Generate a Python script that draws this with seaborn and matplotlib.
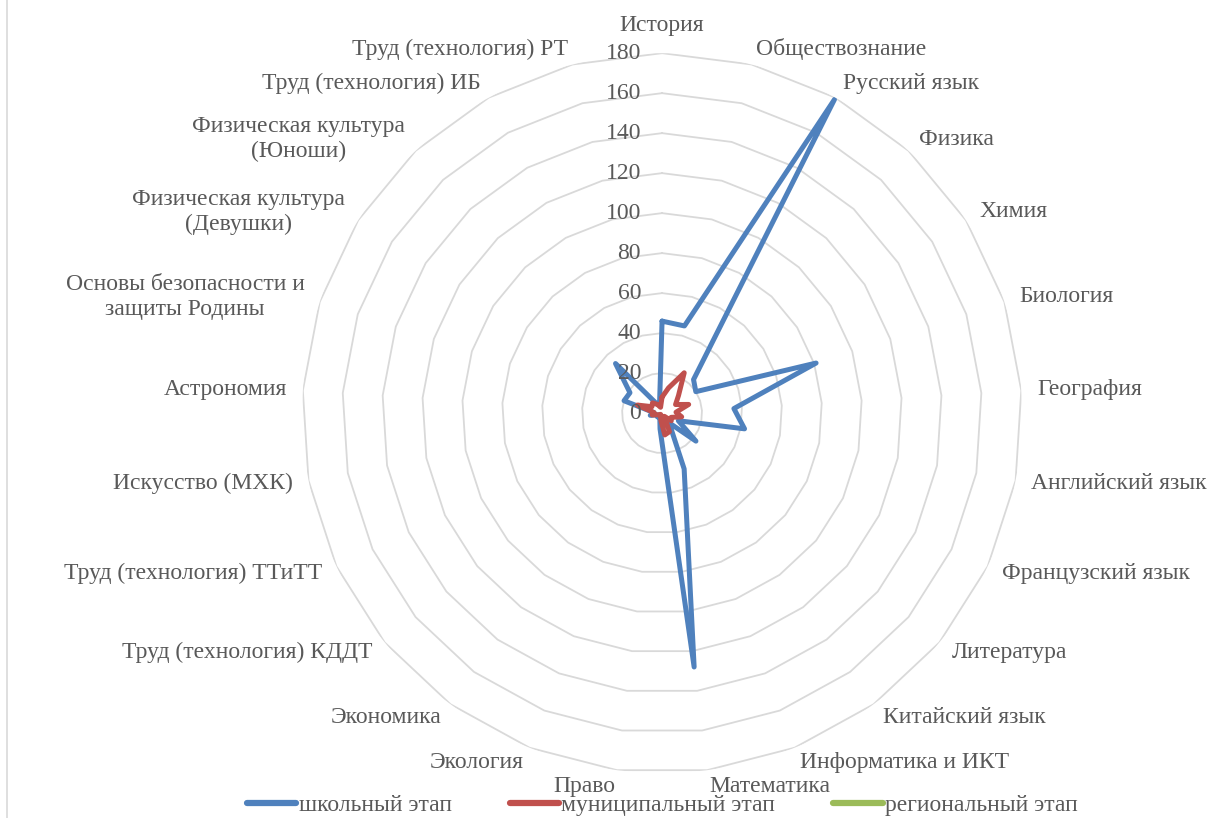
import numpy as np
import pandas as pd
import seaborn as sns
import matplotlib.pyplot as plt
from matplotlib.lines import Line2D
from matplotlib.transforms import offset_copy

# categories, clockwise from the top
subjects = [
    'История', 'Обществознание', 'Русский язык', 'Физика', 'Химия',
    'Биология', 'География', 'Английский язык', 'Французский язык',
    'Литература', 'Китайский язык', 'Информатика и ИКТ', 'Математика',
    'Право', 'Экология', 'Экономика', 'Труд (технология) КДДТ',
    'Труд (технология) ТТиТТ', 'Искусство (МХК)', 'Астрономия',
    'Основы безопасности и\nзащиты Родины', 'Физическая культура\n(Девушки)',
    'Физическая культура\n(Юноши)', 'Труд (технология) ИБ', 'Труд (технология) РТ',
]

school = [46, 45, 179, 23, 20, 81, 36, 42, 9, 22, 6, 30, 128,
          8, 3, 2, 3, 2, 6, 4, 20, 19, 34, 5, 5]
municipal = [8, 13, 23, 12, 8, 14, 7, 10, 5, 6, 2, 10, 11,
             4, 2, 1, 1, 2, 5, 4, 13, 6, 7, 5, 3]
regional = [0, 0, 0, 0, 0, 0, 0, 0, 0, 0, 0, 0, 0,
            0, 0, 0, 0, 0, 0, 0, 0, 0, 0, 0, 0]

stages = ['школьный этап', 'муниципальный этап', 'региональный этап']
colors = ['#4F81BD', '#C0504D', '#9BBB59']
r_ticks = list(range(0, 181, 20))

sns.set_theme(style='white')
plt.rcParams['font.family'] = ['Liberation Serif', 'DejaVu Serif']
text_color = '#595959'
fs = 17

n = len(subjects)
angles = np.arange(n) * 2 * np.pi / n
closed = np.append(angles, angles[0])

# long table, each series closed back to its first point
frames = []
for stage, vals in zip(stages, [school, municipal, regional]):
    frames.append(pd.DataFrame({'angle': closed,
                                'value': vals + vals[:1],
                                'stage': stage}))
df = pd.concat(frames, ignore_index=True)
palette = dict(zip(stages, colors))

fig = plt.figure(figsize=(12.13, 8.18), dpi=100)
ax = fig.add_axes([0.2490, 0.055, 0.5936, 0.880], projection='polar')
ax.set_theta_zero_location('N')
ax.set_theta_direction(-1)
ax.grid(False)
ax.set_xticks([])
ax.set_yticks([])
ax.spines['polar'].set_visible(False)
ax.set_facecolor('none')

# polygon grid
for r in r_ticks[1:]:
    ax.plot(closed, [r] * (n + 1), color='#D9D9D9', lw=1.3, zorder=1)

# regional stage sits beneath the others (it is hidden in the original)
sns.lineplot(data=df[df['stage'] == stages[2]], x='angle', y='value', hue='stage',
             palette=palette, sort=False, estimator=None, lw=3.6,
             solid_joinstyle='round', solid_capstyle='round',
             legend=False, ax=ax, zorder=2)
sns.lineplot(data=df[df['stage'] != stages[2]], x='angle', y='value', hue='stage',
             hue_order=stages[:2], palette=palette, sort=False, estimator=None,
             lw=3.6, solid_joinstyle='round', solid_capstyle='round',
             legend=False, ax=ax, zorder=3)
ax.set_ylim(0, 180)
ax.set_xlabel('')
ax.set_ylabel('')

# radial tick labels
tick_tr = offset_copy(ax.transData, fig=fig, x=-21, y=0, units='dots')
for r in r_ticks:
    ax.text(0, r, str(r), transform=tick_tr, ha='right', va='center',
            fontsize=fs, color=text_color)

# category labels
for th, lab in zip(angles, subjects):
    s = np.sin(th)
    if s > 0.05:
        ha = 'left'
    elif s < -0.05:
        ha = 'right'
    else:
        ha = 'center'
    r_lab = 194 if np.cos(th) > 0.99 else 188
    ax.text(th, r_lab, lab, ha=ha, va='center', multialignment='center',
            linespacing=1.25, fontsize=fs, color=text_color)

handles = [Line2D([], [], color=c, lw=4.5, solid_capstyle='round') for c in colors]
leg = fig.legend(handles, stages, loc='lower center', bbox_to_anchor=(0.546, -0.024),
                 ncol=3, frameon=False, handlelength=2.1, handletextpad=0.1,
                 columnspacing=2.45, fontsize=fs)
for t in leg.get_texts():
    t.set_color(text_color)

fig.add_artist(Line2D([0.0058, 0.0058], [0, 1], transform=fig.transFigure,
                      color='#D9D9D9', lw=1.2))

fig.savefig('out.png', dpi=100)
